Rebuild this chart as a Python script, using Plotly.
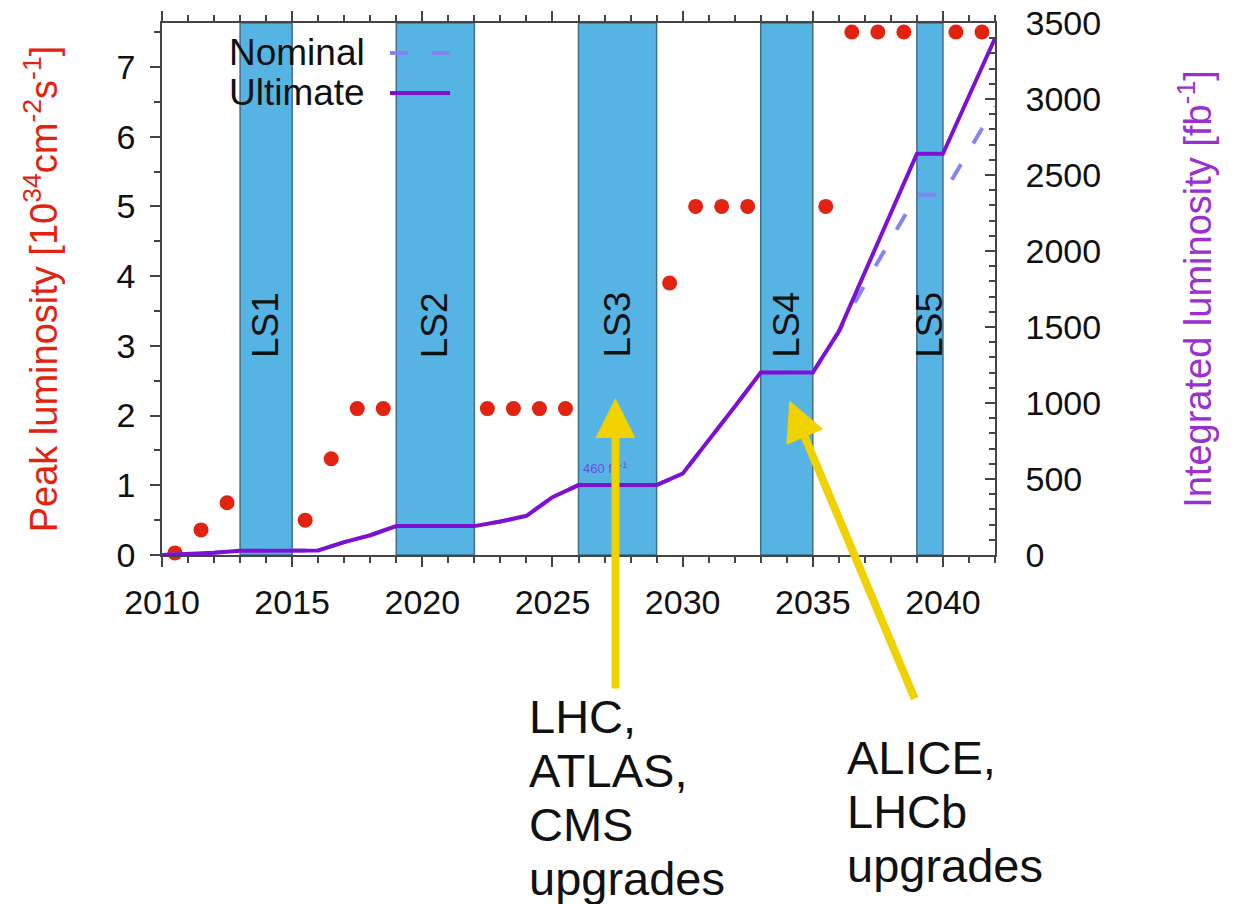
import plotly.graph_objects as go

# ---------------- data ----------------
peak_years = [2010.5, 2011.5, 2012.5, 2015.5, 2016.5, 2017.5, 2018.5,
              2022.5, 2023.5, 2024.5, 2025.5, 2029.5, 2030.5, 2031.5, 2032.5,
              2035.5, 2036.5, 2037.5, 2038.5, 2040.5, 2041.5]
peak_lumi = [0.03, 0.36, 0.75, 0.5, 1.38, 2.1, 2.1,
             2.1, 2.1, 2.1, 2.1, 3.9, 5.0, 5.0, 5.0,
             5.0, 7.5, 7.5, 7.5, 7.5, 7.5]

int_years = list(range(2010, 2043))
ultimate = [0, 5, 15, 28, 28, 28, 30, 85, 130, 190, 190, 190, 190, 220, 258, 380,
            460, 460, 460, 460, 535, 750, 975, 1200, 1200, 1200, 1470, 1860, 2250,
            2640, 2640, 3020, 3400]
nominal = [0, 5, 15, 28, 28, 28, 30, 85, 130, 190, 190, 190, 190, 220, 258, 380,
           460, 460, 460, 460, 535, 750, 975, 1200, 1200, 1200, 1470, 1780, 2075,
           2370, 2370, 2660, 2950]

ls_names = ["LS1", "LS2", "LS3", "LS4", "LS5"]
ls_start = [2013, 2019, 2026, 2033, 2039]
ls_end = [2015, 2022, 2029, 2035, 2040]

upgrade_lhc = ["LHC,", "ATLAS,", "CMS", "upgrades"]
upgrade_alice = ["ALICE,", "LHCb", "upgrades"]

# ---------------- styling ----------------
FONT = "Liberation Sans, Arial, sans-serif"
RED = "#e1230f"
PURPLE = "#7e10d2"
NOM = "#8585ef"
BAND = "#56b4e4"
BAND_EDGE = "#3f6e8a"
YELLOW = "#efd200"
AX = "#444444"

OFF = 8                      # page body margin
W, H = 1234 - OFF, 904 - OFF
L, R, T, B = 162 - OFF, 995 - OFF, 23 - OFF, 555 - OFF


def px(xp):
    return (xp - OFF - L) / (R - L)


def py(yp):
    return (B - (yp - OFF)) / (B - T)


fig = go.Figure()

fig.add_trace(go.Scatter(x=int_years, y=nominal, yaxis="y2", mode="lines",
                         line=dict(color=NOM, width=4, dash="18px,24px"),
                         name="Nominal", showlegend=False))
fig.add_trace(go.Scatter(x=int_years, y=ultimate, yaxis="y2", mode="lines",
                         line=dict(color=PURPLE, width=4),
                         name="Ultimate", showlegend=False))
fig.add_trace(go.Scatter(x=peak_years, y=peak_lumi, mode="markers",
                         marker=dict(color=RED, size=15),
                         name="Peak luminosity", showlegend=False, cliponaxis=False))

shapes = []
annotations = []
for name, s, e in zip(ls_names, ls_start, ls_end):
    shapes.append(dict(type="rect", xref="x", yref="paper", x0=s, x1=e, y0=0, y1=1,
                       fillcolor=BAND, line=dict(color=BAND_EDGE, width=1.5),
                       layer="below"))
    annotations.append(dict(x=(s + e) / 2, y=3.3, xref="x", yref="y", text=name,
                            textangle=-90, showarrow=False,
                            font=dict(family=FONT, size=37, color="#111111")))

annotations.append(dict(x=2027.0, y=575, xref="x", yref="y2",
                        text="460 fb<sup>-1</sup>", showarrow=False,
                        font=dict(family=FONT, size=13, color="#6b4fd6")))

# legend (text right, sample right)
for i, (label, dash, col) in enumerate([("Nominal", "18px,24px", NOM),
                                        ("Ultimate", "solid", PURPLE)]):
    yc = [53, 93][i]
    annotations.append(dict(x=px(367), y=py(yc), xref="paper", yref="paper",
                            text=label, xanchor="right", yanchor="middle",
                            showarrow=False,
                            font=dict(family=FONT, size=37, color="#111111")))
    shapes.append(dict(type="line", xref="paper", yref="paper",
                       x0=px(390), x1=px(450), y0=py(yc), y1=py(yc),
                       line=dict(color=col, width=4, dash=dash)))

# arrows
annotations.append(dict(x=2027.42, y=2.25, xref="x", yref="y", text="",
                        showarrow=True, ax=0, ay=292, axref="pixel", ayref="pixel",
                        arrowhead=2, arrowsize=1.0, arrowwidth=8,
                        arrowcolor=YELLOW))
annotations.append(dict(x=2034.1, y=2.22, xref="x", yref="y", text="",
                        showarrow=True, ax=126, ay=300, axref="pixel", ayref="pixel",
                        arrowhead=2, arrowsize=1.0, arrowwidth=8,
                        arrowcolor=YELLOW))

for i, t in enumerate(upgrade_lhc):
    annotations.append(dict(x=px(527), y=py(716 + 54 * i), xref="paper", yref="paper",
                            text=t, xanchor="left", yanchor="middle", showarrow=False,
                            font=dict(family=FONT, size=47, color="#111111")))
for i, t in enumerate(upgrade_alice):
    annotations.append(dict(x=px(845), y=py(757 + 54 * i), xref="paper", yref="paper",
                            text=t, xanchor="left", yanchor="middle", showarrow=False,
                            font=dict(family=FONT, size=47, color="#111111")))

fig.update_layout(
    width=W, height=H,
    margin=dict(l=L, r=W - R, t=T, b=H - B, pad=0, autoexpand=False),
    paper_bgcolor="white", plot_bgcolor="white",
    font=dict(family=FONT, color="#111111"),
    shapes=shapes, annotations=annotations,
    xaxis=dict(range=[2010, 2042], tickmode="linear", tick0=2010, dtick=5,
               automargin=False, ticklabeloverflow="allow",
               showgrid=False, zeroline=False, showline=True, linecolor=AX,
               linewidth=1.5, mirror="ticks", ticks="outside", ticklen=10,
               tickcolor=AX, tickwidth=1.5,
               minor=dict(dtick=1, ticks="outside", ticklen=6, tickcolor=AX),
               tickfont=dict(family=FONT, size=34, color="#111111"),
               ticklabelstandoff=6),
    yaxis=dict(range=[0, 7.63], tickmode="linear", tick0=0, dtick=1,
               automargin=False, ticklabeloverflow="allow",
               showgrid=False, zeroline=False, showline=True, linecolor=AX,
               linewidth=1.5, ticks="outside", ticklen=10, tickcolor=AX, tickwidth=1.5,
               minor=dict(dtick=0.5, ticks="outside", ticklen=6, tickcolor=AX),
               tickfont=dict(family=FONT, size=34, color="#111111"),
               ticklabelstandoff=8,
               title=dict(text="Peak luminosity [10<sup>34</sup>cm<sup>-2</sup>s<sup>-1</sup>]",
                          font=dict(family=FONT, size=38, color=RED), standoff=47)),
    yaxis2=dict(range=[0, 3500], overlaying="y", side="right", tickmode="linear",
                automargin=False, ticklabeloverflow="allow",
                tick0=0, dtick=500, showgrid=False, zeroline=False, showline=True,
                linecolor=AX, linewidth=1.5, ticks="inside", ticklen=10, tickcolor=AX,
                tickwidth=1.5,
                minor=dict(dtick=100, ticks="inside", ticklen=6, tickcolor=AX),
                tickfont=dict(family=FONT, size=34, color="#111111"),
                ticklabelstandoff=22,
                title=dict(text="Integrated luminosity [fb<sup>-1</sup>]",
                           font=dict(family=FONT, size=38, color="#9a30d0"), standoff=84)),
)

fig.write_html("out.html")
